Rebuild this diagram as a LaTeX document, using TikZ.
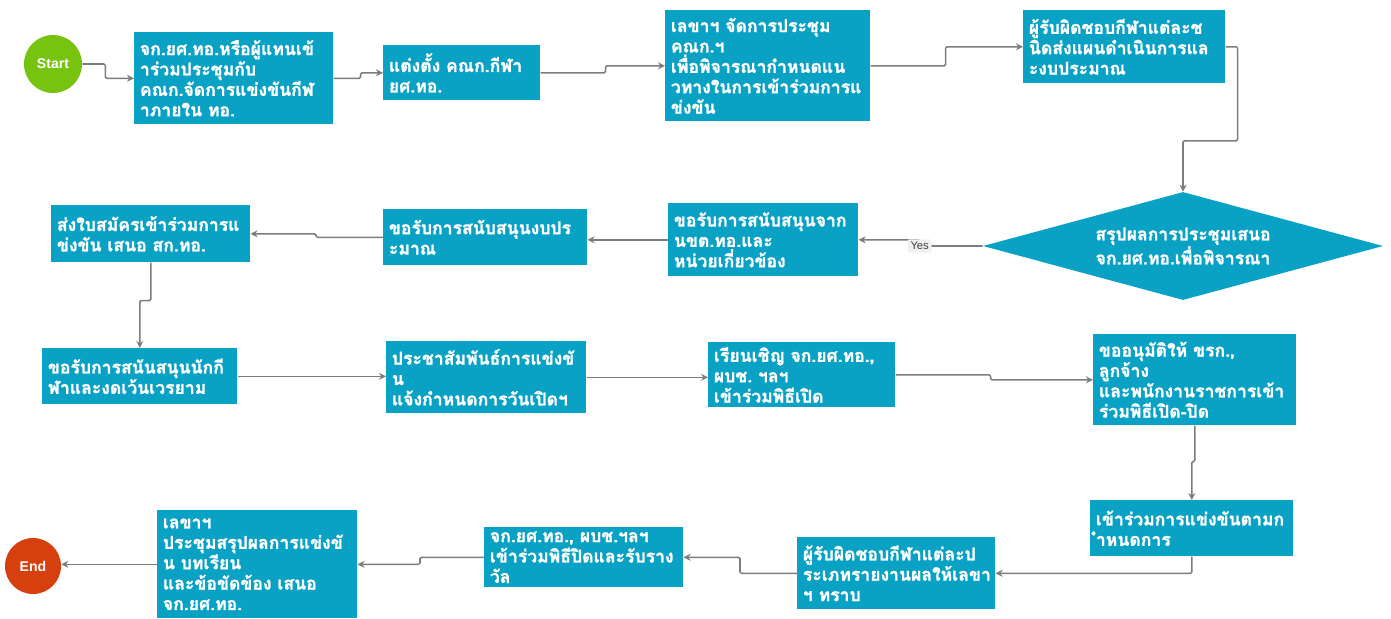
\documentclass[tikz,border=0pt]{standalone}
\usepackage{fontspec}
\setmainfont{Liberation Sans}
\newfontfamily\thaifont[Script=Thai, BoldFeatures={FakeBold=1.3}]{Loma}
\usetikzlibrary{shapes.geometric,arrows.meta}

\definecolor{boxblue}{RGB}{10,162,196}
\definecolor{startgreen}{RGB}{118,196,16}
\definecolor{endred}{RGB}{214,64,14}
\definecolor{linegray}{RGB}{125,125,125}

\tikzset{
    stepbox/.style 2 args={fill=boxblue, text=white, anchor=north west,
        font=\thaifont\bfseries\fontsize{12.5}{14.5}\selectfont, align=left,
        inner xsep=4pt, inner ysep=2pt,
        minimum width=#1*0.025cm, minimum height=#2*0.025cm,
        text width={#1*0.025cm-8pt}},
    ends/.style={circle, text=white, font=\bfseries, inner sep=0pt},
    flow/.style={draw=linegray, line width=1.1pt, ->, >={Stealth[length=5pt,width=5pt]},
        rounded corners=1pt},
    yestag/.style={fill=gray!12, text=black!75, font=\footnotesize, inner sep=2pt}
}

\begin{document}
\begin{tikzpicture}[x=0.025cm, y=-0.025cm]

    \useasboundingbox (0,0) rectangle (1391,618);

    \node [ends, fill=startgreen, minimum size=1.45cm] (start) at (53,64) {Start};
    \node [stepbox={199}{92}] (b1) at (134,32) {จก.ยศ.ทอ.หรือผู้แทนเข้\\าร่วมประชุมกับ\\คณก.จัดการแข่งขันกีฬ\\าภายใน~ทอ.};
    \node [stepbox={157}{55}] (b2) at (383,45) {แต่งตั้ง~คณก.กีฬา\\ยศ.ทอ.};
    \node [stepbox={205}{111}] (b3) at (665,10) {เลขาฯ~จัดการประชุม\\คณก.ฯ\\เพื่อพิจารณากำหนดแน\\วทางในการเข้าร่วมการแ\\ข่งขัน};
    \node [stepbox={202}{73}] (b4) at (1023,10) {ผู้รับผิดชอบกีฬาแต่ละช\\นิดส่งแผนดำเนินการแล\\ะงบประมาณ};

    \node [diamond, fill=boxblue, text=white, align=center, inner sep=0pt,
        font=\thaifont\bfseries\fontsize{12.5}{14.5}\selectfont,
        minimum width=10cm, minimum height=2.7cm, shape aspect=3.7] (dec) at (1183,246)
        {สรุปผลการประชุมเสนอ\\จก.ยศ.ทอ.เพื่อพิจารณา};

    \node [stepbox={190}{73}] (b6) at (668,203) {ขอรับการสนับสนุนจาก\\นขต.ทอ.และ\\หน่วยเกี่ยวข้อง};
    \node [stepbox={204}{56}] (b7) at (383,209) {ขอรับการสนับสนุนงบปร\\ะมาณ};
    \node [stepbox={199}{57}] (b8) at (51,205) {ส่งใบสมัครเข้าร่วมการแ\\ข่งขัน~เสนอ~สก.ทอ.};

    \node [stepbox={195}{56}] (b9) at (42,348) {ขอรับการสนันสนุนนักกี\\ฬาและงดเว้นเวรยาม};
    \node [stepbox={200}{72}] (b10) at (386,341) {ประชาสัมพันธ์การแข่งขั\\น\\แจ้งกำหนดการวันเปิดฯ};
    \node [stepbox={187}{65}] (b11) at (708,342) {เรียนเชิญ~จก.ยศ.ทอ.,\\ผบช.~ฯลฯ\\เข้าร่วมพิธีเปิด};
    \node [stepbox={203}{91}] (b12) at (1093,334) {ขออนุมัติให้~ขรก.,\\ลูกจ้าง\\และพนักงานราชการเข้า\\ร่วมพิธีเปิด-ปิด};

    \node [stepbox={203}{56}] (b13) at (1090,500) {เข้าร่วมการแข่งขันตามก\\ำหนดการ};
    \node [stepbox={198}{72}] (b14) at (797,537) {ผู้รับผิดชอบกีฬาแต่ละป\\ระเภทรายงานผลให้เลขา\\ฯ~ทราบ};
    \node [stepbox={199}{60}] (b15) at (484,527) {จก.ยศ.ทอ.,~ผบช.ฯลฯ\\เข้าร่วมพิธีปิดและรับราง\\วัล};
    \node [stepbox={200}{108}] (b16) at (157,510) {เลขาฯ\\ประชุมสรุปผลการแข่งขั\\น~บทเรียน\\และข้อขัดข้อง~เสนอ\\จก.ยศ.ทอ.};
    \node [ends, fill=endred, minimum size=1.4cm] (end) at (33,566) {End};

    % top row
    \draw[flow] (start.east) -- ++(23,0) |- (b1.west);
    \draw[flow] (b1.east) -- ++(27,0) |- (b2.west);
    \draw[flow] (b2.east) -- ++(65,0) |- (b3.west);
    \draw[flow] (b3.east) -- ++(75,0) |- (b4.west);
    \draw[flow] (b4.east) -- ++(12,0) -- ++(0,94) -| (dec.north);

    % second row
    \draw[flow] (dec.west) -- ++(-63,0) node[yestag] (yes) {Yes} |- (b6.east);
    \draw[flow] (b6.west) -- (b6.west -| b7.east);
    \draw[flow] (b7.west) -- ++(-67,0) |- (b8.east);
    \draw[flow] (b8.south) -- ++(0,38) -| (b9.north);

    % third row
    \draw[flow] (b9.east) -- (b9.east -| b10.west);
    \draw[flow] (b10.east) -- (b10.east -| b11.west);
    \draw[flow] (b11.east) -- ++(95,0) |- (b12.west);
    \draw[flow] (b12.south) -- ++(0,36) -| (b13.north);

    % bottom row
    \draw[flow] (b13.south) |- (b14.east);
    \draw[flow] (b14.west) -- ++(-57,0) |- (b15.east);
    \draw[flow] (b15.west) -- ++(-64,0) |- (b16.east);
    \draw[flow] (b16.west) -- (b16.west -| end.east);

\end{tikzpicture}
\end{document}
